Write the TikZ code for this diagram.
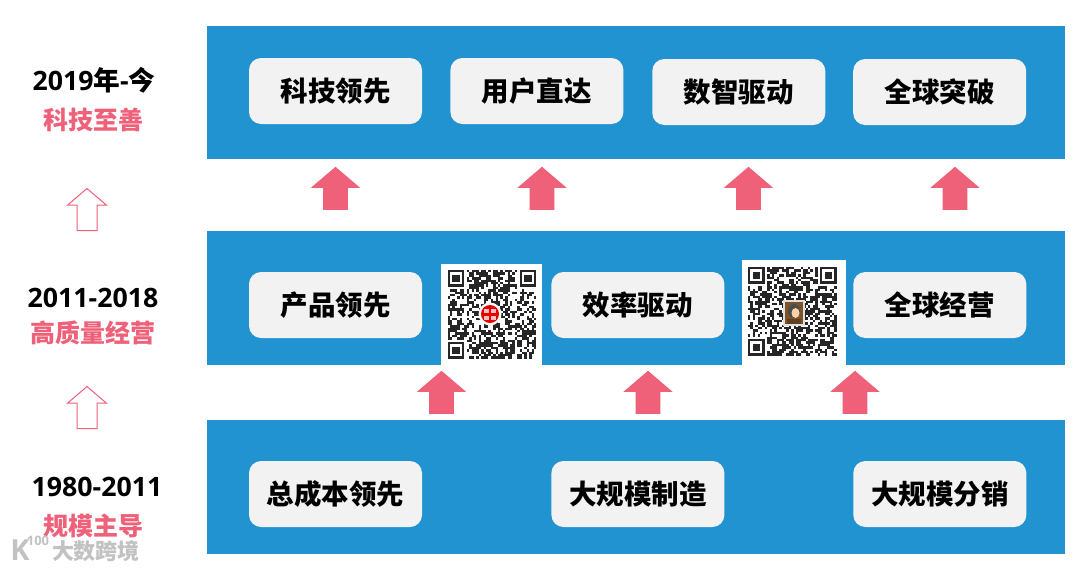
\documentclass[tikz,border=0pt]{standalone}
\usepackage{fontspec}
\usepackage{tikz}
\usetikzlibrary{positioning,shapes.arrows}
\setmainfont{Open Sans}
\newfontfamily\cjk{Noto Sans CJK SC}
\definecolor{bandblue}{RGB}{32,147,208}
\definecolor{cardgray}{RGB}{242,242,242}
\definecolor{rosered}{RGB}{239,96,121}
% QR pattern: #1,#2 = top left corner, modules of 2.4
\newcommand{\qrfinder}[2]{%
    \fill[black!85] (#1,#2) rectangle ++(16.8,16.8);
    \fill[white] (#1+2.4,#2+2.4) rectangle ++(12,12);
    \fill[black!85] (#1+4.8,#2+4.8) rectangle ++(7.2,7.2);
}
\newcommand{\qrcode}[3]{%
    \pgfmathsetseed{#3}
    \foreach \i in {0,...,36} {
        \foreach \j in {0,...,36} {
            \pgfmathrandominteger{\bit}{0}{100}
            \ifnum\bit<55
                \fill[black!85] (#1+2.4*\i,#2+2.4*\j) rectangle ++(2.45,2.45);
            \fi
        }
    }
    \fill[white] (#1,#2) rectangle ++(19.2,19.2);
    \fill[white] (#1+69.6,#2) rectangle ++(19.2,19.2);
    \fill[white] (#1,#2+69.6) rectangle ++(19.2,19.2);
    \qrfinder{#1}{#2}
    \qrfinder{#1+72}{#2}
    \qrfinder{#1}{#2+72}
}

\begin{document}
\begin{tikzpicture}[
    x=1pt, y=-1pt,
    band/.style={rectangle, fill=bandblue, minimum width=858pt, minimum height=133.5pt, inner sep=0pt},
    card/.style={rectangle, rounded corners=12pt, fill=cardgray, minimum width=173pt, minimum height=66pt,
        inner sep=0pt, font=\cjk\bfseries\fontsize{27.5}{30}\selectfont},
    era/.style={font=\bfseries\fontsize{26.7}{30}\selectfont},
    motto/.style={text=rosered, font=\cjk\bfseries\fontsize{25}{28}\selectfont},
    uparrow/.style={single arrow, shape border rotate=90, anchor=tail, fill=rosered, inner sep=12.25pt, minimum width=49pt,
        minimum height=43pt, single arrow head extend=12.25pt, single arrow tip angle=99},
    hollowarrow/.style={uparrow, fill=white, draw=rosered, line width=1pt, inner sep=9.5pt, minimum width=38pt,
        minimum height=42pt, single arrow head extend=9.5pt},
    wmark/.style={text=black!24, font=\cjk\bfseries\fontsize{22}{24}\selectfont}
]
    \useasboundingbox (0,0) rectangle (1080,571);
    \fill[white] (0,0) rectangle (1080,571);

    % bands
    \node[band] (top) at (636,92.5) {};
    \node[band] (mid) at (636,298) {};
    \node[band] (low) at (636,487) {};

    % era labels
    \node[era] (era3) at (94,80) {2019{\cjk 年}-{\cjk 今}};
    \node[motto] (motto3) at (93,120) {科技至善};
    \node[era] (era2) at (93,298) {2011-2018};
    \node[motto] (motto2) at (93,333) {高质量经营};
    \node[era] (era1) at (97,487) {1980-2011};
    \node[motto] (motto1) at (93,526) {规模主导};
    \node[hollowarrow] (up2) at (87,231) {};
    \node[hollowarrow] (up1) at (87,429) {};

    % top row
    \node[card] (tech) at (335.5,91) {科技领先};
    \node[card, right=28pt of tech] (user) {用户直达};
    \node[card, right=28.5pt of user, yshift=-1pt] (digital) {数智驱动};
    \node[card, right=27.5pt of digital] (breakout) {全球突破};

    % middle row
    \node[card] (product) at (335.5,305) {产品领先};
    \node[card, right=129pt of product] (efficiency) {效率驱动};
    \node[card, right=128.5pt of efficiency] (global) {全球经营};

    % bottom row
    \node[card] (cost) at (335.5,494) {总成本领先};
    \node[card, right=129pt of cost] (scale) {大规模制造};
    \node[card, right=128.5pt of scale] (channel) {大规模分销};

    % block arrows
    \node[uparrow] (a1) at (335.5,210) {};
    \node[uparrow] (a2) at (542,210) {};
    \node[uparrow] (a3) at (748.5,210) {};
    \node[uparrow] (a4) at (955,210) {};
    \node[uparrow] (b1) at (441.5,414) {};
    \node[uparrow] (b2) at (648,414) {};
    \node[uparrow] (b3) at (855,414) {};

    % QR codes
    \fill[white] (441,264) rectangle (542,365);
    \qrcode{447.5}{270}{17}
    \fill[white] (490,314) circle (11.5);
    \fill[red!90!black] (490,314) circle (9);
    \fill[white!75!red] (484,308.5) rectangle (489,312.5);
    \fill[white!75!red] (491,308.5) rectangle (496,312.5);
    \fill[white!75!red] (484,315.5) rectangle (489,319.5);
    \fill[white!75!red] (491,315.5) rectangle (496,319.5);
    \fill[white] (742,260) rectangle (846,365);
    \qrcode{748}{267}{41}
    \fill[white!88!black] (783,300) rectangle (805,326);
    \fill[brown!65!black] (785,302) rectangle (803,324);
    \fill[black!70] (794,311) ellipse (6 and 7);
    \fill[orange!35] (795.5,313) ellipse (4 and 5);
    \fill[brown!50!black] (787,324) rectangle (801,319);

    % watermark
    \node[wmark] (wm) at (96,551) {大数跨境};
    \node[wmark, font=\bfseries\fontsize{29}{30}\selectfont] (wmk) at (20,550) {K};
    \node[wmark, font=\bfseries\fontsize{13}{14}\selectfont] (wmlogo) at (38,541) {100};
\end{tikzpicture}
\end{document}
